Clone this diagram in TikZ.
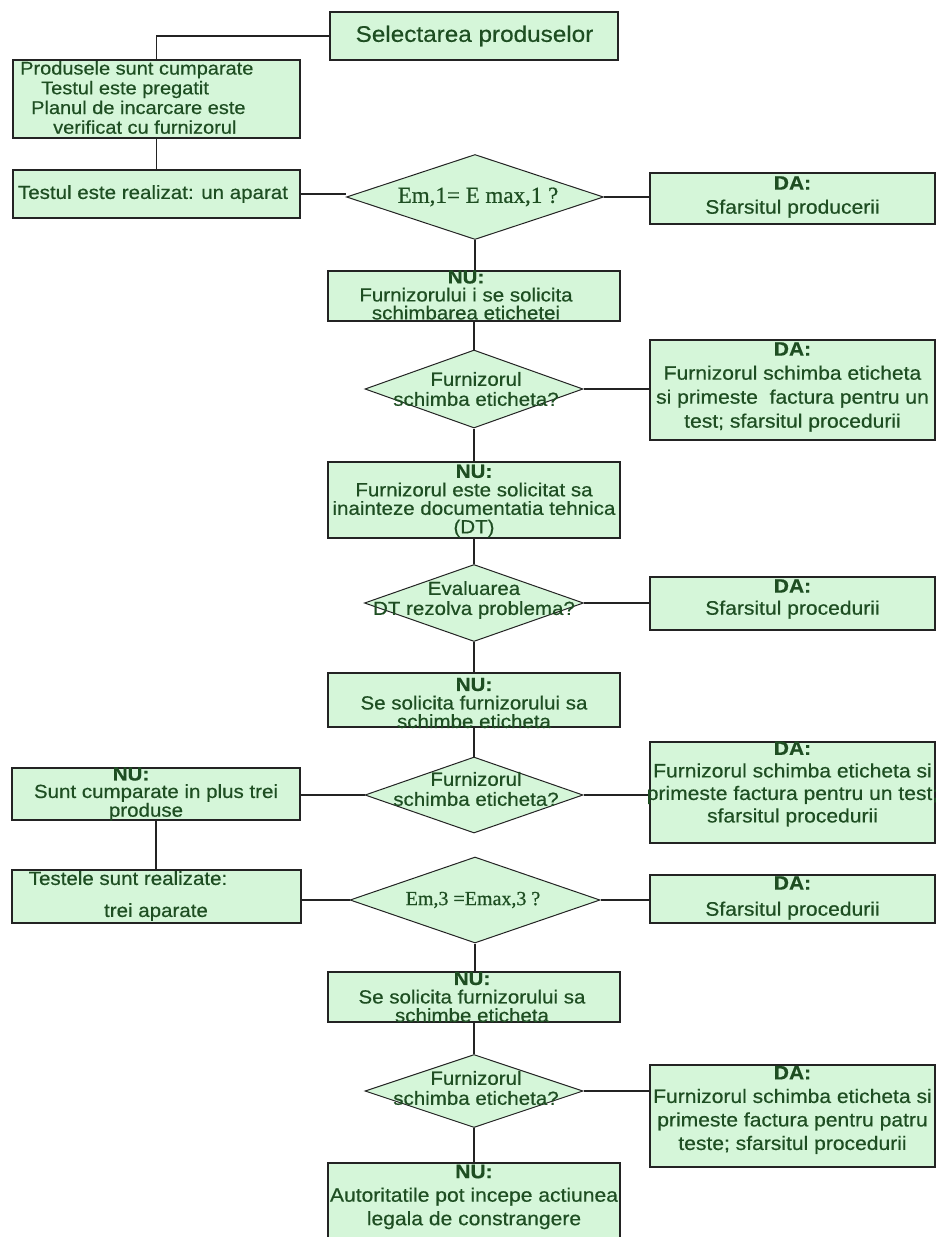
\documentclass[tikz,border=0pt]{standalone}
\usepackage{fontspec}
\setmainfont{Liberation Sans}[FakeStretch=1.08,FakeBold=0.5]
\newfontfamily\serifd{Liberation Serif}[FakeBold=0.6]
\usetikzlibrary{shapes.geometric}
\definecolor{fillg}{RGB}{213,246,217}
\definecolor{txtg}{RGB}{30,78,34}
\definecolor{edge}{RGB}{35,35,35}
\tikzset{
  box/.style={draw=edge, line width=1.4pt, fill=fillg, rectangle, inner sep=0pt},
  dia/.style={draw=edge, line width=1pt, fill=fillg, diamond, inner sep=0pt},
  txt/.style={text=txtg, align=center, inner sep=0pt},
  conn/.style={draw=edge, line width=1.2pt},
}
\newcommand{\fs}[2]{\fontsize{#1}{#2}\selectfont}
\begin{document}
\begin{tikzpicture}[x=1pt,y=-1pt]
\useasboundingbox (0,0) rectangle (936,1237);
\clip (0,0) rectangle (936,1237);
\fill[white] (0,0) rectangle (936,1237);

% boxes
\node[box, minimum width=288pt, minimum height=48pt] (sel) at (474,36) {};
\node[box, minimum width=287pt, minimum height=78pt] (buy) at (156.5,99) {};
\node[box, minimum width=287pt, minimum height=48pt] (test1) at (156.5,194) {};
\node[dia, minimum width=257pt, minimum height=85pt] (dia1) at (475,197) {};
\node[box, minimum width=285pt, minimum height=51pt] (da1) at (792.5,198.5) {};
\node[box, minimum width=292pt, minimum height=50pt] (nu1) at (474,296) {};
\node[dia, minimum width=218pt, minimum height=78pt] (dia2) at (474,389) {};
\node[box, minimum width=285pt, minimum height=100pt] (da2) at (792.5,390) {};
\node[box, minimum width=292pt, minimum height=76pt] (nu2) at (474,500) {};
\node[dia, minimum width=219pt, minimum height=77pt] (dia3) at (474,603) {};
\node[box, minimum width=285pt, minimum height=53pt] (da3) at (792.5,603.5) {};
\node[box, minimum width=292pt, minimum height=54pt] (nu3) at (474,700) {};
\node[dia, minimum width=218pt, minimum height=76pt] (dia4) at (474,795) {};
\node[box, minimum width=285pt, minimum height=101pt] (da4) at (792.5,792.5) {};
\node[box, minimum width=288pt, minimum height=52pt] (nuL) at (156,794) {};
\node[box, minimum width=289pt, minimum height=53pt] (test3) at (156.5,896.5) {};
\node[dia, minimum width=250pt, minimum height=86pt] (dia5) at (475,900) {};
\node[box, minimum width=285pt, minimum height=48pt] (da5) at (792.5,899) {};
\node[box, minimum width=292pt, minimum height=50pt] (nu4) at (474,997) {};
\node[dia, minimum width=218pt, minimum height=73pt] (dia6) at (474,1091) {};
\node[box, minimum width=285pt, minimum height=102pt] (da6) at (792.5,1116) {};
\node[box, minimum width=292pt, minimum height=84pt] (nu5) at (474,1205) {};

% connectors
\draw[conn] (sel.west) -| (buy.north);
\draw[conn] (buy.south) -- (test1.north);
\draw[conn] (test1.east) -- (test1.east -| dia1.west);
\draw[conn] (dia1.east) -- (dia1.east -| da1.west);
\draw[conn] (dia1.south) -- (dia1.south |- nu1.north);
\draw[conn] (nu1.south) -- (dia2.north);
\draw[conn] (dia2.east) -- (dia2.east -| da2.west);
\draw[conn] (dia2.south) -- (nu2.north);
\draw[conn] (nu2.south) -- (dia3.north);
\draw[conn] (dia3.east) -- (dia3.east -| da3.west);
\draw[conn] (dia3.south) -- (nu3.north);
\draw[conn] (nu3.south) -- (dia4.north);
\draw[conn] (dia4.east) -- (dia4.east -| da4.west);
\draw[conn] (dia4.west) -- (dia4.west -| nuL.east);
\draw[conn] (nuL.south) -- (nuL.south |- test3.north);
\draw[conn] (dia5.west) -- (dia5.west -| test3.east);
\draw[conn] (dia5.east) -- (dia5.east -| da5.west);
\draw[conn] (dia5.south) -- (dia5.south |- nu4.north);
\draw[conn] (nu4.south) -- (dia6.north);
\draw[conn] (dia6.east) -- (dia6.east -| da6.west);
\draw[conn] (dia6.south) -- (nu5.north);

% texts
\node[txt, font=\fs{22.5}{24}] (selt) at (474.5,36) {Selectarea produselor};
\node[txt, align=left, anchor=north west, font=\fs{18.5}{19.7}] (buyt) at (20,61)
  {Produsele sunt cumparate\\\hspace*{21pt}Testul este pregatit\\\hspace*{11pt}Planul de incarcare este\\\hspace*{33pt}verificat cu furnizorul};
\node[txt, font=\fs{19}{21}] (test1t) at (153,194) {Testul este realizat: un aparat};
\node[txt, font=\serifd\fs{23}{24}] (dia1t) at (478,197) {Em,1= E max,1 ?};
\node[txt, font=\fs{19.5}{24}] (da1t) at (792.5,197) {\textbf{DA:}\\Sfarsitul producerii};
\node[txt, font=\fs{19}{18}] (nu1t) at (466,295) {\textbf{NU:}\\Furnizorului i se solicita\\schimbarea etichetei};
\node[txt, font=\fs{19}{20}] (dia2t) at (476,389) {Furnizorul\\schimba eticheta?};
\node[txt, font=\fs{19.5}{24}] (da2t) at (792.5,387) {\textbf{DA:}\\Furnizorul schimba eticheta\\si primeste\ \ factura pentru un\\test; sfarsitul procedurii};
\node[txt, font=\fs{19}{18.5}] (nu2t) at (474,501) {\textbf{NU:}\\Furnizorul este solicitat sa\\inainteze documentatia tehnica\\(DT)};
\node[txt, font=\fs{19}{20}] (dia3t) at (474,600) {Evaluarea\\DT rezolva problema?};
\node[txt, font=\fs{19.5}{22}] (da3t) at (792.5,599) {\textbf{DA:}\\Sfarsitul procedurii};
\node[txt, font=\fs{19}{18.5}] (nu3t) at (474,703) {\textbf{NU:}\\Se solicita furnizorului sa\\schimbe eticheta};
\node[txt, font=\fs{19}{20}] (dia4t) at (476,789) {Furnizorul\\schimba eticheta?};
\node[txt, font=\fs{19.5}{22.5}] (da4t) at (792.5,784) {\textbf{DA:}\\Furnizorul schimba eticheta si\\primeste factura pentru un test;\\sfarsitul procedurii};
\node[txt, font=\fs{19}{17.5}] (nuLt) at (156,794) {\textbf{NU:}\hspace*{50pt}\\Sunt cumparate in plus trei\\produse\hspace*{20pt}};
\node[txt, font=\fs{19}{32}] (test3t) at (156,896) {Testele sunt realizate:\hspace*{56pt}\\trei aparate};
\node[txt, font=\serifd\fs{20}{22}] (dia5t) at (473,900) {Em,3 =Emax,3 ?};
\node[txt, font=\fs{19.5}{26}] (da5t) at (792.5,898) {\textbf{DA:}\\Sfarsitul procedurii};
\node[txt, font=\fs{19}{18.5}] (nu4t) at (472,997) {\textbf{NU:}\\Se solicita furnizorului sa\\schimbe eticheta};
\node[txt, font=\fs{19}{20}] (dia6t) at (476,1088) {Furnizorul\\schimba eticheta?};
\node[txt, font=\fs{19.5}{23.5}] (da6t) at (792.5,1110) {\textbf{DA:}\\Furnizorul schimba eticheta si\\primeste factura pentru patru\\teste; sfarsitul procedurii};
\node[txt, font=\fs{19.5}{23.5}] (nu5t) at (474,1197) {\textbf{NU:}\\Autoritatile pot incepe actiunea\\legala de constrangere};
\end{tikzpicture}
\end{document}
